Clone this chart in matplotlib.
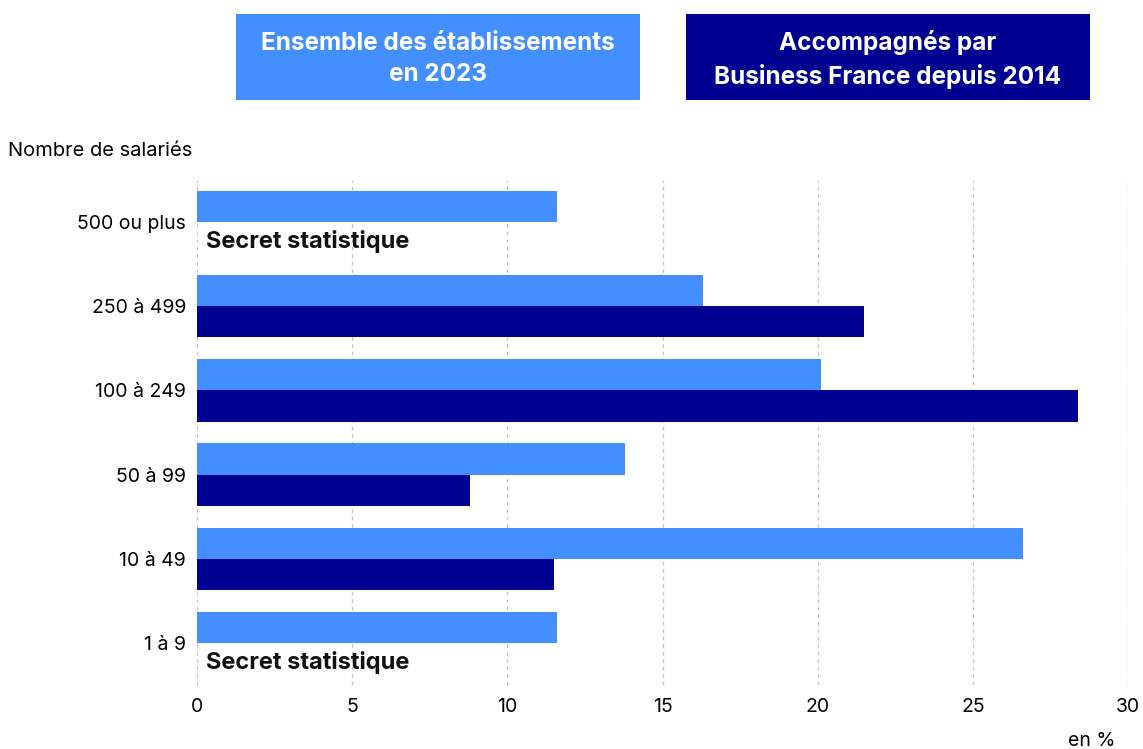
import matplotlib.pyplot as plt
from matplotlib.patches import Rectangle
import numpy as np

plt.rcParams['font.family'] = ['Inter', 'DejaVu Sans']

categories = ['500 ou plus', '250 à 499', '100 à 249', '50 à 99', '10 à 49', '1 à 9']
ensemble = [11.6, 16.3, 20.1, 13.8, 26.6, 11.6]
accompagnes = [np.nan, 21.5, 28.4, 8.8, 11.5, np.nan]
secret_rows = ['500 ou plus', '1 à 9']
xticks = [0, 5, 10, 15, 20, 25, 30]

LIGHT = '#438fff'
DARK = '#000091'

fig = plt.figure(figsize=(11.43, 7.49), dpi=100)
ax = fig.add_axes([0.1724, 0.0854, 0.8145, 0.6743])

y = np.arange(len(categories))
h = 0.37
ax.barh(y - h / 2, ensemble, height=h, color=LIGHT, zorder=3)
ax.barh(y + h / 2, np.nan_to_num(accompagnes), height=h, color=DARK, zorder=3)

# lignes sans donnees
for cat in secret_rows:
    i = categories.index(cat)
    ax.text(0.3, i + 0.23, 'Secret statistique', fontsize=17, fontweight='bold',
            va='center', ha='left', color='#111111', zorder=4)

ax.set_xlim(0, 30)
ax.set_ylim(len(categories) - 0.5, -0.5)
ax.set_xticks(xticks)
ax.set_xticklabels([str(t) for t in xticks], fontsize=14)
ax.set_yticks(y)
ax.set_yticklabels(categories, fontsize=14)
ax.tick_params(length=0, pad=8)
ax.tick_params(axis='x', pad=9)
for s in ax.spines.values():
    s.set_visible(False)
ax.grid(axis='x', color='#c4c4c4', linestyle=(0, (3, 3)), linewidth=0.9, zorder=0)

fig.text(0.007, 0.798, 'Nombre de salariés', fontsize=14.5, va='center', ha='left')
fig.text(0.976, 0.011, 'en %', fontsize=14, va='center', ha='right')

# legende en cartouches
boxes = [(0.2065, LIGHT, 'Ensemble des établissements\nen 2023'),
         (0.6002, DARK, 'Accompagnés par\nBusiness France depuis 2014')]
for x0, col, label in boxes:
    fig.patches.append(Rectangle((x0, 0.8665), 0.3535, 0.1148, transform=fig.transFigure,
                                 facecolor=col, edgecolor='none'))
    fig.text(x0 + 0.3535 / 2, 0.8665 + 0.1148 / 2 - 0.003, label, color='white',
             fontsize=17.5, fontweight='bold', ha='center', va='center', linespacing=1.45)

fig.savefig('out.png', dpi=100)
